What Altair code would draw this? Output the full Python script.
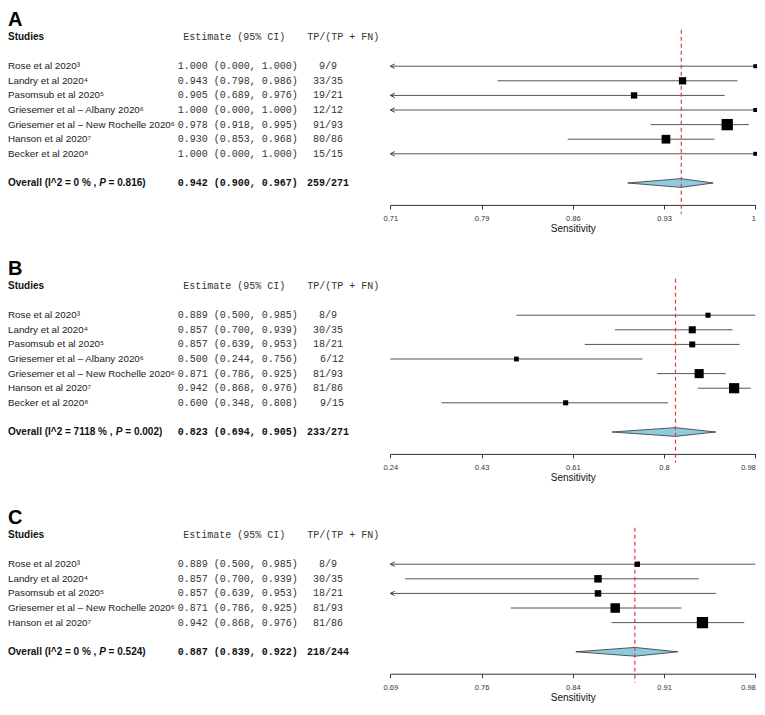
import altair as alt
import pandas as pd
import numpy as np

# ---------------- data ----------------
studies_ab = [
    "Rose et al 2020\u00b3",
    "Landry et al 2020\u2074",
    "Pasomsub et al 2020\u2075",
    "Griesemer et al \u2013 Albany 2020\u2076",
    "Griesemer et al \u2013 New Rochelle 2020\u2076",
    "Hanson et al 2020\u2077",
    "Becker et al 2020\u2078",
]
studies_c = [
    "Rose et al 2020\u00b3",
    "Landry et al 2020\u2074",
    "Pasomsub et al 2020\u2075",
    "Griesemer et al \u2013 New Rochelle 2020\u2076",
    "Hanson et al 2020\u2077",
]

# Panel A
a_est = [1.000, 0.943, 0.905, 1.000, 0.978, 0.930, 1.000]
a_lo = [0.000, 0.798, 0.689, 0.000, 0.918, 0.853, 0.000]
a_hi = [1.000, 0.986, 0.976, 1.000, 0.995, 0.968, 1.000]
a_tp = [9, 33, 19, 12, 91, 80, 15]
a_tot = [9, 35, 21, 12, 93, 86, 15]
a_weight = [4.6, 15.4, 11.6, 4.6, 37.1, 22.0, 4.6]
a_overall = [0.942, 0.900, 0.967]
a_i2, a_p = "0", "0.816"
a_domain = [0.714, 1.0]
a_ticks = ["0.71", "0.79", "0.86", "0.93", "1"]

# Panel B
b_est = [0.889, 0.857, 0.857, 0.500, 0.871, 0.942, 0.600]
b_lo = [0.500, 0.700, 0.639, 0.244, 0.786, 0.868, 0.348]
b_hi = [0.985, 0.939, 0.953, 0.756, 0.925, 0.976, 0.808]
b_tp = [8, 30, 18, 6, 81, 81, 9]
b_tot = [9, 35, 21, 12, 93, 86, 15]
b_weight = [7.5, 14.4, 10.2, 6.7, 23.8, 30.0, 7.5]
b_overall = [0.823, 0.694, 0.905]
b_i2, b_p = "7118", "0.002"
b_domain = [0.244, 0.985]
b_ticks = ["0.24", "0.43", "0.61", "0.8", "0.98"]

# Panel C
c_est = [0.889, 0.857, 0.857, 0.871, 0.942]
c_lo = [0.500, 0.700, 0.639, 0.786, 0.868]
c_hi = [0.985, 0.939, 0.953, 0.925, 0.976]
c_tp = [8, 30, 18, 81, 81]
c_tot = [9, 35, 21, 93, 86]
c_weight = [8.5, 16.2, 12.2, 26.2, 36.9]
c_overall = [0.887, 0.839, 0.922]
c_i2, c_p = "0", "0.524"
c_domain = [0.688, 0.985]
c_ticks = ["0.69", "0.76", "0.84", "0.91", "0.98"]

# ---------------- layout / style ----------------
ROW_PX = 14.6
Y_TOP = -3.85
LETTER_ROW = -3.15
X_RANGE = [382.3, 747.3]
SANS = "Liberation Sans"
MONO = "Liberation Mono"

BOLD_W = {" ": 278, "(": 333, ")": 333, ",": 278, ".": 278, "%": 889, "=": 584,
          "^": 584, "I": 278, "O": 778, "P": 667, "a": 556, "e": 556, "l": 278,
          "r": 389, "v": 556}


def bold_width(s, size=10):
    return sum(BOLD_W.get(ch, 556) for ch in s) * size / 1000.0


def make_panel(letter, studies, est, lo, hi, tp, tot, weight, overall, i2, pval,
               domain, tick_labels, size_max):
    n = len(studies)
    d0, d1 = domain
    height = (n + 2.5 - Y_TOP) * ROW_PX

    df = pd.DataFrame({
        "study": studies,
        "row": list(range(n)),
        "est": est,
        "lo": lo,
        "hi": hi,
        "weight": weight,
        "est_text": [f"{e:.3f} ({l:.3f}, {h:.3f})" for e, l, h in zip(est, lo, hi)],
        "tp_text": [f"{a}/{b}" for a, b in zip(tp, tot)],
    })

    ov_row = n + 1
    ov_est, ov_lo, ov_hi = overall

    xs = alt.Scale(domain=domain, range=X_RANGE, nice=False, zero=False)
    ys = alt.Scale(domain=[Y_TOP, n + 2.5], reverse=True, nice=False, zero=False)

    tick_vals = [float(v) for v in np.linspace(d0, d1, len(tick_labels))]
    expr = "".join(f"abs(datum.value - {v}) < 1e-6 ? '{t}' : "
                   for v, t in zip(tick_vals, tick_labels)) + "''"
    last_tick = d1 - (d1 - d0) * 0.01

    axis = alt.Axis(values=tick_vals, labelExpr=expr, title="Sensitivity", grid=False,
                    tickSize=4, tickWidth=1, tickColor="#333", domainColor="#333",
                    domainWidth=1, labelPadding=5.5, labelFontSize=7.5, labelFont=SANS,
                    labelColor="#333", labelFlush=False, labelOverlap=False,
                    labelAlign={"condition": {"test": f"datum.value > {last_tick}",
                                              "value": "right"},
                                "value": "center"},
                    titleFont=SANS, titleFontSize=10, titleFontWeight="normal",
                    titleColor="#111", titlePadding=2)

    def X(field):
        return alt.X(field, scale=xs, axis=axis, title="Sensitivity")

    def Y(field):
        return alt.Y(field, scale=ys, axis=None)

    base = alt.Chart(df)

    ci = base.transform_calculate(
        lo_c=f"max(datum.lo, {d0})", hi_c=f"min(datum.hi, {d1})"
    ).mark_rule(color="#555", strokeWidth=1).encode(
        x=X("lo_c:Q"), x2="hi_c:Q", y=Y("row:Q"),
    )

    arrows = base.transform_filter(f"datum.lo < {d0}").transform_calculate(
        xa=f"{d0}"
    ).mark_point(shape="M 2 -1 L 0 0 L 2 1", filled=False, stroke="#444",
                 strokeWidth=1, size=20, opacity=1).encode(
        x=X("xa:Q"), y=Y("row:Q"),
    )

    squares = base.mark_square(color="black", opacity=1).encode(
        x=X("est:Q"), y=Y("row:Q"),
        size=alt.Size("weight:Q", scale=alt.Scale(domain=[0, 100], range=[0, size_max]),
                      legend=None),
    )

    dia_df = pd.DataFrame({
        "x": [ov_lo, ov_est, ov_hi],
        "y1": [ov_row, ov_row - 0.3, ov_row],
        "y2": [ov_row, ov_row + 0.3, ov_row],
    })
    diamond = alt.Chart(dia_df).mark_area(
        color="#8ecbe0", stroke="#333", strokeWidth=0.8, opacity=1, orient="vertical"
    ).encode(x=X("x:Q"), y=Y("y1:Q"), y2="y2:Q")

    red_df = pd.DataFrame({"est": [ov_est], "ytop": [-2.5], "ybot": [n + 3.1]})
    red = alt.Chart(red_df).mark_rule(color="#e8383d", strokeDash=[4, 3],
                                      strokeWidth=1.2).encode(
        x=X("est:Q"), y=Y("ytop:Q"), y2="ybot:Q",
    )

    def txt(data, x, **kw):
        return alt.Chart(data).mark_text(baseline="middle", **kw).encode(
            x=alt.value(x), y=Y("row:Q"), text="label:N",
        )

    letter_t = txt(pd.DataFrame({"row": [LETTER_ROW], "label": [letter]}), 0,
                   align="left", font=SANS, fontSize=20, fontWeight="bold", color="black")
    hdr_studies = txt(pd.DataFrame({"row": [-2], "label": ["Studies"]}), 0,
                      align="left", font=SANS, fontSize=10, fontWeight="bold", color="#111")
    hdr_est = txt(pd.DataFrame({"row": [-2], "label": ["Estimate (95% CI)"]}), 175.3,
                  align="left", font=MONO, fontSize=10, color="#333")
    hdr_tp = txt(pd.DataFrame({"row": [-2], "label": ["TP/(TP + FN)"]}), 299.3,
                 align="left", font=MONO, fontSize=10, color="#333")

    names = base.mark_text(align="left", baseline="middle", font=SANS, fontSize=9.8,
                           color="#1a1a1a").encode(
        x=alt.value(0), y=Y("row:Q"), text="study:N")
    ests = base.mark_text(align="left", baseline="middle", font=MONO, fontSize=10,
                          color="#333").encode(
        x=alt.value(169.7), y=Y("row:Q"), text="est_text:N")
    tps = base.transform_filter("length(datum.tp_text) != 4").mark_text(
        align="center", baseline="middle", font=MONO, fontSize=10, color="#333").encode(
        x=alt.value(320), y=Y("row:Q"), text="tp_text:N")
    tps4 = base.transform_filter("length(datum.tp_text) == 4").mark_text(
        align="center", baseline="middle", font=MONO, fontSize=10, color="#333", dx=4).encode(
        x=alt.value(320), y=Y("row:Q"), text="tp_text:N")

    prefix = f"Overall (I^2 = {i2} % , "
    suffix = f"= {pval})"
    wp = bold_width(prefix)
    ov_pre = txt(pd.DataFrame({"row": [ov_row], "label": [prefix.rstrip()]}), 0,
                 align="left", font=SANS, fontSize=10, fontWeight="bold", color="#111")
    ov_p = txt(pd.DataFrame({"row": [ov_row], "label": ["P"]}), wp,
               align="left", font=SANS, fontSize=10, fontWeight="bold",
               fontStyle="italic", color="#111")
    ov_suf = txt(pd.DataFrame({"row": [ov_row], "label": [suffix]}),
                 wp + bold_width("P "), align="left", font=SANS, fontSize=10,
                 fontWeight="bold", color="#111")
    ov_est_t = txt(pd.DataFrame({"row": [ov_row],
                                 "label": [f"{ov_est:.3f} ({ov_lo:.3f}, {ov_hi:.3f})"]}),
                   169.7, align="left", font=MONO, fontSize=10, fontWeight="bold",
                   color="#111")
    ov_tp_t = txt(pd.DataFrame({"row": [ov_row], "label": [f"{sum(tp)}/{sum(tot)}"]}),
                  320, align="center", font=MONO, fontSize=10, fontWeight="bold",
                  color="#111")

    return alt.layer(
        ci, arrows, diamond, red, squares,
        letter_t, hdr_studies, hdr_est, hdr_tp,
        names, ests, tps, tps4,
        ov_pre, ov_p, ov_suf, ov_est_t, ov_tp_t,
    ).properties(width=749, height=height)


pA = make_panel("A", studies_ab, a_est, a_lo, a_hi, a_tp, a_tot, a_weight, a_overall,
                a_i2, a_p, a_domain, a_ticks, 345)
pB = make_panel("B", studies_ab, b_est, b_lo, b_hi, b_tp, b_tot, b_weight, b_overall,
                b_i2, b_p, b_domain, b_ticks, 480)
pC = make_panel("C", studies_c, c_est, c_lo, c_hi, c_tp, c_tot, c_weight, c_overall,
                c_i2, c_p, c_domain, c_ticks, 328)

chart = alt.vconcat(pA, pB, pC, spacing=54, bounds="flush").properties(
    padding={"left": 0, "top": 2, "bottom": 0, "right": -1}
).configure_view(stroke=None)

chart.save("out.html", embed_options={"renderer": "svg", "actions": False})
